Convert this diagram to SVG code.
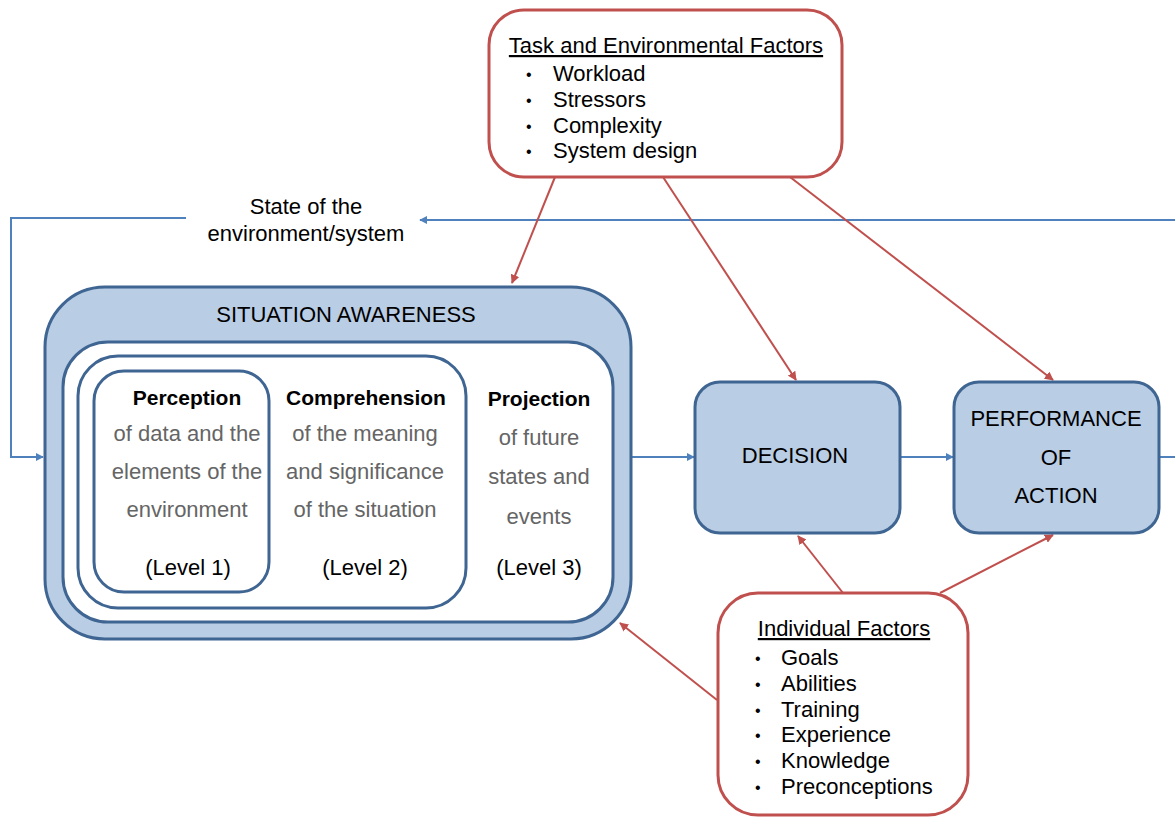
<svg xmlns="http://www.w3.org/2000/svg" width="1175" height="817" viewBox="0 0 1175 817">
<defs>
<style>
.t{font-family:"Liberation Sans",Arial,sans-serif;font-size:22px;fill:#000}
.c{text-anchor:middle}
.b{font-weight:bold;font-size:21px}
.g{fill:#656565}
.u{font-size:16px}
.red{fill:#fff;stroke:#C0504D;stroke-width:3}
.blue{fill:#B9CDE5;stroke:#3F6592;stroke-width:3}
.wh{fill:#fff;stroke:#3F6592;stroke-width:3}
.rl{stroke:#C0504D;stroke-width:2;fill:none}
.bl{stroke:#4F81BD;stroke-width:2;fill:none}
</style>
<marker id="ar" viewBox="0 0 10 10" refX="9" refY="5" markerWidth="9" markerHeight="9" markerUnits="userSpaceOnUse" orient="auto"><path d="M0,0L10,5L0,10z" fill="#C0504D"/></marker>
<marker id="ab" viewBox="0 0 10 10" refX="9" refY="5" markerWidth="8" markerHeight="8" markerUnits="userSpaceOnUse" orient="auto"><path d="M0,0L10,5L0,10z" fill="#4F81BD"/></marker>
</defs>
<rect width="1175" height="817" fill="#fff"/>
<g id="connectors">
<path class="bl" d="M186,218H11V457H43" marker-end="url(#ab)"/>
<path class="bl" d="M1175,220H420" marker-end="url(#ab)"/>
<path class="bl" d="M631,457H694" marker-end="url(#ab)"/>
<path class="bl" d="M900,457H953" marker-end="url(#ab)"/>
<path class="bl" d="M1159,457H1175"/>
<path class="rl" d="M555,177L512,283" marker-end="url(#ar)"/>
<path class="rl" d="M663,177L796,380" marker-end="url(#ar)"/>
<path class="rl" d="M790,177L1053,380" marker-end="url(#ar)"/>
<path class="rl" d="M843,593L798,536" marker-end="url(#ar)"/>
<path class="rl" d="M940,593L1053,535" marker-end="url(#ar)"/>
<path class="rl" d="M717,700L620,623" marker-end="url(#ar)"/>
</g>
<g id="state-label">
<text class="t c" x="306" y="214">State of the</text>
<text class="t c" x="306" y="241">environment/system</text>
</g>
<g id="task-factors">
<rect class="red" x="489" y="10" width="353" height="167" rx="35"/>
<text class="t c" x="666" y="53" text-decoration="underline">Task and Environmental Factors</text>
<text class="t u" x="526" y="80">•</text><text class="t" x="553" y="81">Workload</text>
<text class="t u" x="526" y="106">•</text><text class="t" x="553" y="107">Stressors</text>
<text class="t u" x="526" y="132">•</text><text class="t" x="553" y="133">Complexity</text>
<text class="t u" x="526" y="157">•</text><text class="t" x="553" y="158">System design</text>
</g>
<g id="situation-awareness">
<rect class="blue" x="45" y="287" width="586" height="352" rx="60"/>
<text class="t c" x="346" y="322">SITUATION AWARENESS</text>
<rect class="wh" x="63" y="342" width="550" height="280" rx="45"/>
<rect class="wh" x="78" y="356" width="388" height="252" rx="40"/>
<rect class="wh" x="94" y="371" width="175" height="221" rx="30"/>
</g>
<g id="perception">
<text class="t c b" x="187" y="405">Perception</text>
<text class="t c g" x="187" y="441">of data and the</text>
<text class="t c g" x="187" y="479">elements of the</text>
<text class="t c g" x="187" y="517">environment</text>
<text class="t c" x="188" y="575">(Level 1)</text>
</g>
<g id="comprehension">
<text class="t c b" x="366" y="405">Comprehension</text>
<text class="t c g" x="365" y="441">of the meaning</text>
<text class="t c g" x="365" y="479">and significance</text>
<text class="t c g" x="365" y="517">of the situation</text>
<text class="t c" x="365" y="575">(Level 2)</text>
</g>
<g id="projection">
<text class="t c b" x="539" y="406">Projection</text>
<text class="t c g" x="539" y="445">of future</text>
<text class="t c g" x="539" y="484">states and</text>
<text class="t c g" x="539" y="524">events</text>
<text class="t c" x="539" y="575">(Level 3)</text>
</g>
<g id="decision">
<rect class="blue" x="695" y="382" width="205" height="151" rx="25"/>
<text class="t c" x="795" y="463">DECISION</text>
</g>
<g id="performance">
<rect class="blue" x="954" y="382" width="205" height="151" rx="25"/>
<text class="t c" x="1056" y="426">PERFORMANCE</text>
<text class="t c" x="1056" y="465">OF</text>
<text class="t c" x="1056" y="503">ACTION</text>
</g>
<g id="individual-factors">
<rect class="red" x="718" y="593" width="250" height="222" rx="40"/>
<text class="t c" x="844" y="636" text-decoration="underline">Individual Factors</text>
<text class="t u" x="755" y="664">•</text><text class="t" x="781" y="665">Goals</text>
<text class="t u" x="755" y="690">•</text><text class="t" x="781" y="691">Abilities</text>
<text class="t u" x="755" y="716">•</text><text class="t" x="781" y="717">Training</text>
<text class="t u" x="755" y="741">•</text><text class="t" x="781" y="742">Experience</text>
<text class="t u" x="755" y="767">•</text><text class="t" x="781" y="768">Knowledge</text>
<text class="t u" x="755" y="793">•</text><text class="t" x="781" y="794">Preconceptions</text>
</g>
</svg>
